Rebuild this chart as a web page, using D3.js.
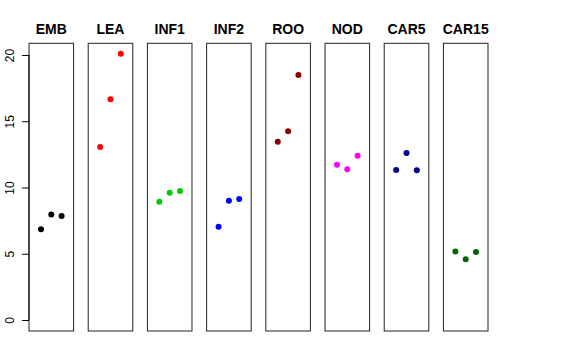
<!DOCTYPE html>
<html>
<head>
<meta charset="utf-8">
<script src="https://cdn.jsdelivr.net/npm/d3@7"></script>
<style>
  body { margin: 0; background: #fff; }
  text { font-family: "Liberation Sans", Arial, sans-serif; }
</style>
</head>
<body>
<svg width="576" height="360"></svg>
<script>
// tissues (one panel each) and their point colours
var tissues = ["EMB", "LEA", "INF1", "INF2", "ROO", "NOD", "CAR5", "CAR15"];
var colors = ["#000000", "#ff0000", "#00cd00", "#0000ff", "#8b0000", "#ff00ff", "#00008b", "#006400"];

// three replicates per tissue
var rep1 = [6.85, 13.06, 8.93, 7.04, 13.46, 11.72, 11.32, 5.16];
var rep2 = [7.97, 16.65, 9.61, 9.00, 14.24, 11.37, 12.60, 4.58];
var rep3 = [7.85, 20.10, 9.74, 9.13, 18.49, 12.40, 11.30, 5.13];

var yTicks = [0, 5, 10, 15, 20];

var svg = d3.select("svg");

// panel placement
var panelX = d3.scaleBand()
  .domain(tissues)
  .range([29, 488])
  .paddingInner(0.247)
  .paddingOuter(0);

// shared y scale (R style 4% padding around 0..20.1)
var y = d3.scaleLinear()
  .domain([-0.83, 20.88])
  .range([331, 43.3]);

// x inside a panel: replicate 1..3 on a 0..4 range
var x = d3.scaleLinear()
  .domain([-0.16, 4.16])
  .range([0, panelX.bandwidth()]);

var rows = tissues.map(function(t, i) {
  return { name: t, color: colors[i], vals: [rep1[i], rep2[i], rep3[i]] };
});

var panel = svg.selectAll("g.panel")
  .data(rows)
  .enter()
  .append("g")
  .attr("class", "panel")
  .attr("transform", function(d) { return "translate(" + panelX(d.name) + ",0)"; });

panel.append("rect")
  .attr("x", 0)
  .attr("y", y.range()[1])
  .attr("width", panelX.bandwidth())
  .attr("height", y.range()[0] - y.range()[1])
  .attr("fill", "none")
  .attr("stroke", "#222")
  .attr("stroke-width", 1);

panel.append("text")
  .attr("x", panelX.bandwidth() / 2)
  .attr("y", 34)
  .attr("text-anchor", "middle")
  .style("font-weight", "bold")
  .style("font-size", "14px")
  .text(function(d) { return d.name; });

panel.selectAll("circle")
  .data(function(d) { return d.vals.map(function(v, j) { return { v: v, j: j + 1, color: d.color }; }); })
  .enter()
  .append("circle")
  .attr("cx", function(d) { return x(d.j); })
  .attr("cy", function(d) { return y(d.v); })
  .attr("r", 3)
  .attr("fill", function(d) { return d.color; });

// y axis on the first panel
var yAxis = d3.axisLeft(y)
  .tickValues(yTicks)
  .tickSize(7)
  .tickPadding(4);

var ax = svg.append("g")
  .attr("transform", "translate(" + panelX(tissues[0]) + ",0)")
  .call(yAxis);

ax.select(".domain")
  .attr("d", "M-7," + y(0) + "V" + y(20))
  .attr("transform", "translate(7,0)")
  .attr("stroke", "#000");

ax.selectAll(".tick line").attr("stroke", "#000");

ax.selectAll(".tick text")
  .attr("x", 0)
  .attr("dy", 0)
  .attr("text-anchor", "middle")
  .attr("transform", "translate(-15,0) rotate(-90)")
  .style("font-size", "12px")
  .style("font-family", "Liberation Sans, Arial, sans-serif")
  .attr("fill", "#000");
</script>
</body>
</html>
